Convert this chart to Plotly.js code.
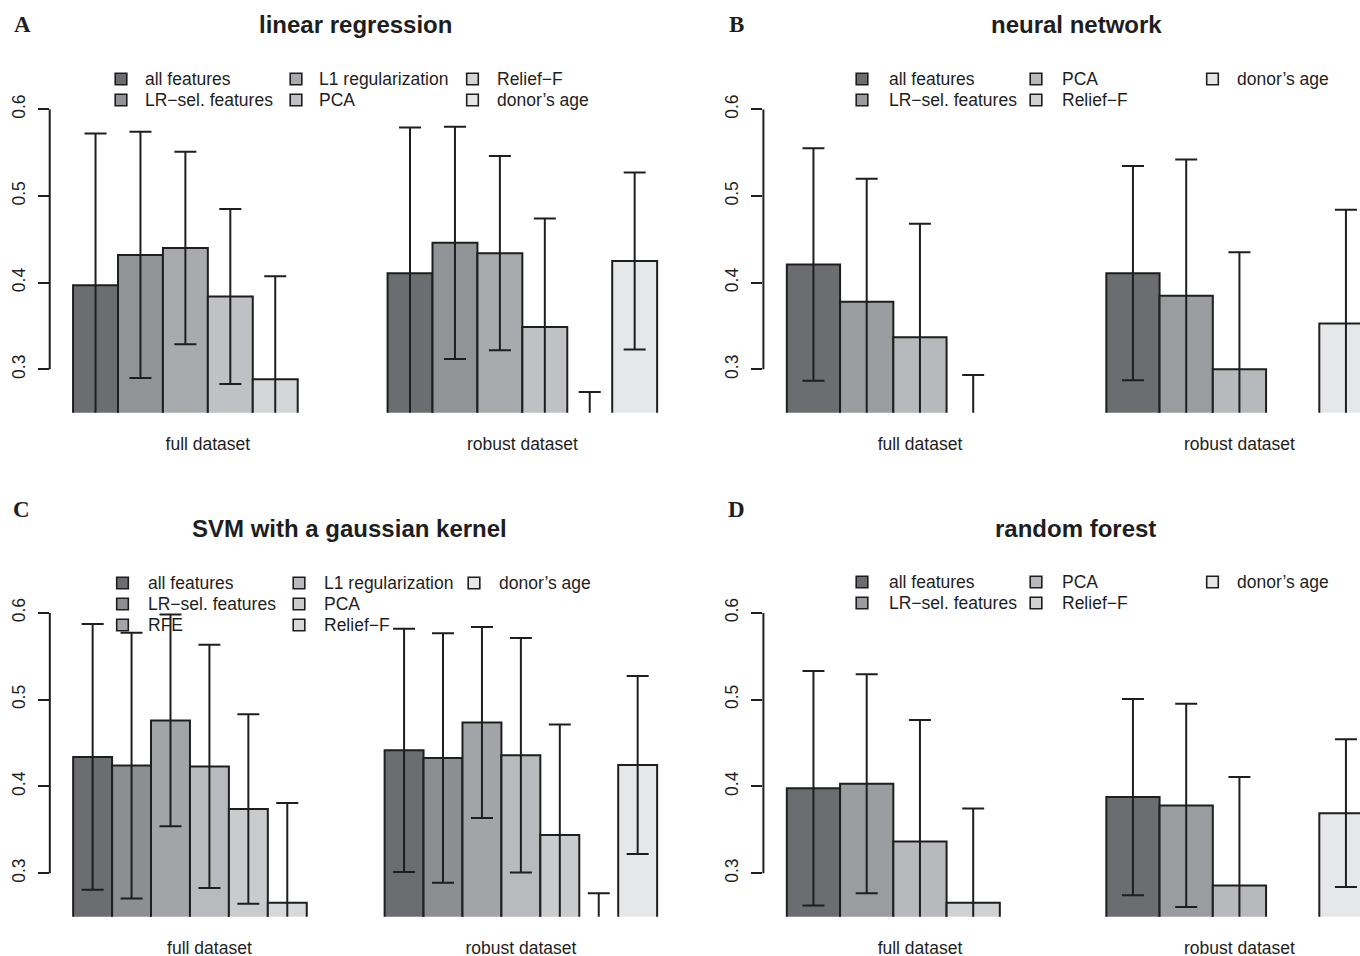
<!DOCTYPE html>
<html><head><meta charset="utf-8">
<script src="https://cdn.plot.ly/plotly-3.0.1.min.js"></script>
<style>html,body{margin:0;padding:0;background:#fff}</style>
</head><body><div id="chart" style="width:1360px;height:956px"></div>
<script>
// ---------------- data ----------------
const groups = ['full dataset', 'robust dataset'];

const lrMethods   = ['all features', 'LR\u2212sel. features', 'L1 regularization', 'PCA', 'Relief\u2212F', 'donor\u2019s age'];
const lrFull      = [0.397, 0.432, 0.440, 0.384, 0.2885, null];
const lrFullErr   = [0.175, 0.142, 0.111, 0.101, 0.119, null];
const lrRobust    = [0.411, 0.446, 0.434, 0.349, 0.200, 0.425];
const lrRobustErr = [0.168, 0.134, 0.112, 0.125, 0.074, 0.102];

const nnMethods   = ['all features', 'LR\u2212sel. features', 'PCA', 'Relief\u2212F', 'donor\u2019s age'];
const nnFull      = [0.421, 0.378, 0.337, 0.200, null];
const nnFullErr   = [0.134, 0.142, 0.131, 0.0935, null];
const nnRobust    = [0.411, 0.385, 0.300, 0.170, 0.353];
const nnRobustErr = [0.1235, 0.157, 0.135, 0.070, 0.131];

const svmMethods   = ['all features', 'LR\u2212sel. features', 'RFE', 'L1 regularization', 'PCA', 'Relief\u2212F', 'donor\u2019s age'];
const svmFull      = [0.434, 0.424, 0.476, 0.423, 0.374, 0.266, null];
const svmFullErr   = [0.153, 0.153, 0.122, 0.140, 0.109, 0.115, null];
const svmRobust    = [0.4415, 0.4327, 0.4735, 0.4358, 0.3442, 0.200, 0.4246];
const svmRobustErr = [0.140, 0.1435, 0.110, 0.135, 0.127, 0.077, 0.1025];

const rfMethods   = ['all features', 'LR\u2212sel. features', 'PCA', 'Relief\u2212F', 'donor\u2019s age'];
const rfFull      = [0.398, 0.403, 0.3365, 0.2662, null];
const rfFullErr   = [0.135, 0.126, 0.140, 0.1085, null];
const rfRobust    = [0.3877, 0.3781, 0.2858, 0.170, 0.3692];
const rfRobustErr = [0.113, 0.117, 0.125, 0.070, 0.085];

const yTicks = [0.3, 0.4, 0.5, 0.6];

// ---------------- styles / layout ----------------
const W = 1360, H = 956;
const INK = '#1e1e1e';
const FONT = 'Liberation Sans, Arial, Helvetica, sans-serif';
const SERIF = 'Liberation Serif, Times New Roman, serif';
const col6 = ['#6c6d71', '#929397', '#a9aaad', '#c0c1c4', '#d4d5d7', '#e6e7e9'];
const col5 = ['#6c6d71', '#9b9c9f', '#b8b9bc', '#d0d1d3', '#e6e7e9'];
const col7 = ['#6c6d71', '#8d8e92', '#a3a4a7', '#b9babd', '#cacbcd', '#d8d9db', '#e6e7e9'];

const panels = [
  {ax: '', methods: lrMethods, full: lrFull, fullErr: lrFullErr, robust: lrRobust, robustErr: lrRobustErr,
   colors: col6, title: 'linear regression', letter: 'A',
   xpx: [49.7, 680.5], xr: [0.48, 14.52], ypx: [109.3, 412.7],
   titleXY: [355, 25], letterXY: [22.5, 25],
   legSq: [121, 296, 472.5], legTx: [142.7, 316.7, 495], legRows: [79, 100]},
  {ax: '2', methods: nnMethods, full: nnFull, fullErr: nnFullErr, robust: nnRobust, robustErr: nnRobustErr,
   colors: col5, title: 'neural network', letter: 'B',
   xpx: [763.4, 1360], xr: [0.56, 11.764], ypx: [109.3, 412.7],
   titleXY: [1076.5, 25], letterXY: [736, 25],
   legSq: [862, 1036, 1212.5], legTx: [886.7, 1060, 1235], legRows: [79, 100]},
  {ax: '3', methods: svmMethods, full: svmFull, fullErr: svmFullErr, robust: svmRobust, robustErr: svmRobustErr,
   colors: col7, title: 'SVM with a gaussian kernel', letter: 'C',
   xpx: [49.8, 680.5], xr: [0.4, 16.6], ypx: [612.7, 916.7],
   titleXY: [350, 528], letterXY: [21, 509],
   legSq: [122.5, 299, 474], legTx: [146, 321.7, 496.7], legRows: [583, 604, 625]},
  {ax: '4', methods: rfMethods, full: rfFull, fullErr: rfFullErr, robust: rfRobust, robustErr: rfRobustErr,
   colors: col5, title: 'random forest', letter: 'D',
   xpx: [763.4, 1360], xr: [0.56, 11.764], ypx: [612.7, 916.7],
   titleXY: [1075, 528], letterXY: [736, 509],
   legSq: [862, 1036, 1212.5], legTx: [886.7, 1060, 1235], legRows: [582, 603]}
];

const px = v => v / W;
const py = v => 1 - v / H;

const data = [];
const layout = {
  width: W, height: H,
  margin: {l: 0, r: 0, t: 0, b: 0},
  paper_bgcolor: '#ffffff', plot_bgcolor: 'rgba(0,0,0,0)',
  showlegend: false, barmode: 'overlay', bargap: 0,
  font: {family: FONT, size: 17.5, color: INK},
  shapes: [], annotations: []
};

panels.forEach(p => {
  const n = p.methods.length;
  const xa = 'x' + p.ax, ya = 'y' + p.ax;
  const slot = (g, i) => g * (n + 1) + i + 1.5;
  const groupCenter = g => g * (n + 1) + 1 + n / 2;

  p.methods.forEach((m, i) => {
    data.push({
      type: 'bar', name: m, xaxis: xa, yaxis: ya,
      x: [slot(0, i), slot(1, i)],
      y: [p.full[i], p.robust[i]],
      width: [1, 1],
      marker: {color: p.colors[i], line: {color: INK, width: 2}},
      error_y: {type: 'data', symmetric: true, array: [p.fullErr[i], p.robustErr[i]],
                color: INK, thickness: 2, width: 11},
      hoverinfo: 'skip'
    });
  });

  layout['xaxis' + p.ax] = {
    domain: [px(p.xpx[0]), px(p.xpx[1])], range: p.xr, anchor: ya,
    showgrid: false, zeroline: false, showline: false, ticks: '',
    tickmode: 'array', tickvals: [groupCenter(0), groupCenter(1)], ticktext: groups,
    tickfont: {family: FONT, size: 17.5, color: INK}, ticklabelstandoff: 19,
    automargin: false, fixedrange: true
  };
  layout['yaxis' + p.ax] = {
    domain: [py(p.ypx[1]), py(p.ypx[0])], range: [0.25, 0.6], anchor: xa,
    showgrid: false, zeroline: false, showline: false,
    ticks: 'outside', ticklen: 11, tickwidth: 2, tickcolor: INK,
    tickmode: 'array', tickvals: yTicks, ticktext: yTicks.map(v => v.toFixed(1)),
    tickangle: -90, tickfont: {family: FONT, size: 17.5, color: INK}, ticklabelstandoff: 6,
    automargin: false, fixedrange: true
  };
  // R-style axis line spanning only the tick range
  layout.shapes.push({type: 'line', xref: 'paper', yref: ya,
    x0: px(p.xpx[0]), x1: px(p.xpx[0]), y0: yTicks[0], y1: yTicks[yTicks.length - 1],
    line: {color: INK, width: 2}});

  // titles & panel letters
  layout.annotations.push({xref: 'paper', yref: 'paper', x: px(p.titleXY[0]), y: py(p.titleXY[1]),
    xanchor: 'center', yanchor: 'middle', showarrow: false, text: '<b>' + p.title + '</b>',
    font: {family: FONT, size: 24, color: INK}});
  layout.annotations.push({xref: 'paper', yref: 'paper', x: px(p.letterXY[0]), y: py(p.letterXY[1]),
    xanchor: 'center', yanchor: 'middle', showarrow: false, text: '<b>' + p.letter + '</b>',
    font: {family: SERIF, size: 23, color: INK}});

  // legend (column-major, like R legend with ncol = 3)
  const nrow = p.legRows.length;
  p.methods.forEach((m, k) => {
    const c = Math.floor(k / nrow), r = k % nrow;
    const cx = p.legSq[c], cy = p.legRows[r], h = 5.8;
    layout.shapes.push({type: 'rect', xref: 'paper', yref: 'paper',
      x0: px(cx - h), x1: px(cx + h), y0: py(cy + h), y1: py(cy - h),
      fillcolor: p.colors[k], line: {color: INK, width: 1.6}});
    layout.annotations.push({xref: 'paper', yref: 'paper', x: px(p.legTx[c]), y: py(cy),
      xanchor: 'left', yanchor: 'middle', showarrow: false, text: m,
      font: {family: FONT, size: 17.5, color: INK}});
  });
});

Plotly.newPlot('chart', data, layout, {displayModeBar: false, staticPlot: true});
</script>
</body></html>
